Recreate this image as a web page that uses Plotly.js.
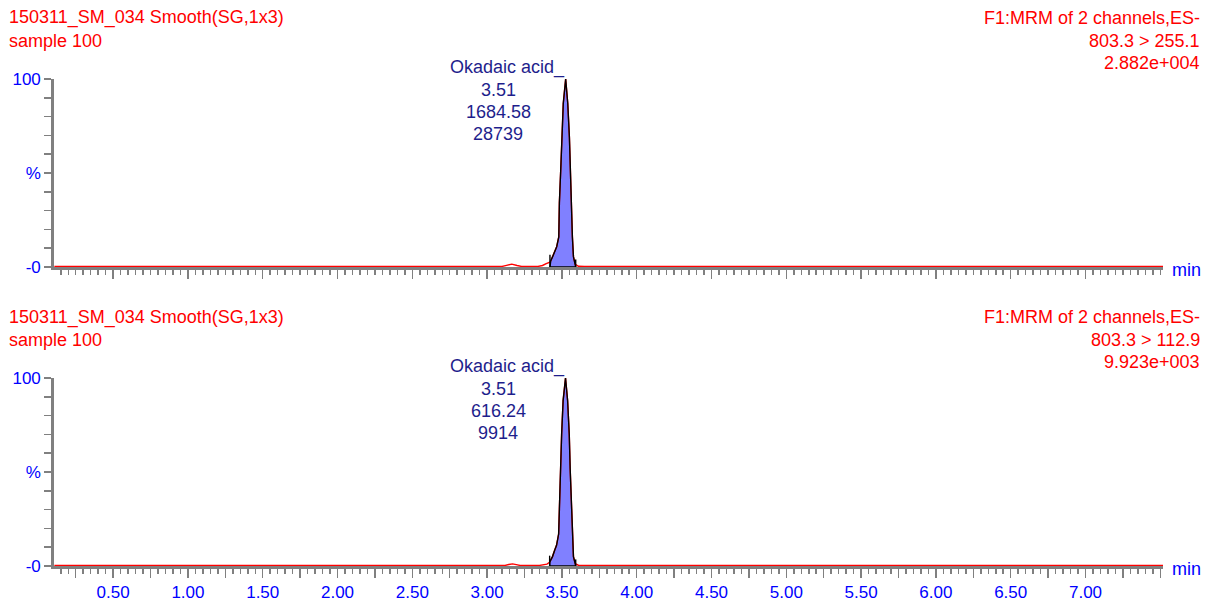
<!DOCTYPE html>
<html>
<head>
<meta charset="utf-8">
<script src="https://cdn.plot.ly/plotly-3.0.1.min.js"></script>
<style>html,body{margin:0;padding:0;background:#fff;}#chart{width:1208px;height:601px;}</style>
</head>
<body>
<div id="chart"></div>
<script>
// ---------- DATA ----------
// Channel 1 (803.3 > 255.1): integrated peak outline (time in min, % intensity)
const peak1Time = [3.420, 3.420, 3.425, 3.438, 3.454, 3.465, 3.479, 3.483, 3.492, 3.499, 3.509, 3.525, 3.539, 3.550, 3.556, 3.563, 3.570, 3.577, 3.588, 3.592];
const peak1Int  = [0,     2.6,   3.2,   5.5,   9.0,   10.8,  16.0,  34.0,  51.6,  69.0,  87.0,  100,   87.0,  69.0,  51.6,  34.0,  16.0,  5.5,   1.5,   0];
// Channel 1 full trace outside the peak
const trace1PreTime  = [0.106, 1.00, 2.00, 3.00, 3.10, 3.13, 3.165, 3.20, 3.23, 3.34, 3.37, 3.395, 3.41];
const trace1PreInt   = [0.3,   0.3,  0.3,  0.3,  0.3,  0.9,  1.5,   0.8,  0.3,  0.3,  0.8,  1.8,   2.3];
const trace1PostTime = [3.61, 3.65, 5.00, 7.518];
const trace1PostInt  = [0.4,  0.3,  0.3,  0.3];
// integration markers (start / end drop lines), % height
const marks1Time = [3.420, 3.592];
const marks1Int  = [6.5, 4.0];

// Channel 2 (803.3 > 112.9)
const peak2Time = [3.418, 3.418, 3.424, 3.437, 3.452, 3.464, 3.478, 3.483, 3.491, 3.498, 3.508, 3.524, 3.538, 3.549, 3.555, 3.562, 3.569, 3.577, 3.589, 3.592];
const peak2Int  = [0,     2.0,   3.0,   5.0,   8.5,   11.0,  17.0,  34.0,  52.0,  70.0,  88.0,  100,   88.0,  70.0,  52.0,  34.0,  15.0,  5.0,   1.2,   0];
const trace2PreTime  = [0.106, 1.00, 2.00, 3.00, 3.12, 3.145, 3.17, 3.195, 3.22, 3.35, 3.38, 3.40, 3.41];
const trace2PreInt   = [0.3,   0.3,  0.3,  0.3,  0.3,  0.8,   1.1,  0.7,   0.3,  0.3,  0.5,  1.0,  1.6];
const trace2PostTime = [3.61, 3.65, 5.00, 7.518];
const trace2PostInt  = [0.4,  0.3,  0.3,  0.3];
const marks2Time = [3.418, 3.592];
const marks2Int  = [5.5, 3.5];

// Text content
const fileLabel = "150311_SM_034 Smooth(SG,1x3)";
const sampleLabel = "sample 100";
const functionLabel = "F1:MRM of 2 channels,ES-";
const transitions = ["803.3 > 255.1", "803.3 > 112.9"];
const intensities = ["2.882e+004", "9.923e+003"];
const compound = "Okadaic acid_";
const peakRT = ["3.51", "3.51"];
const peakArea = ["1684.58", "616.24"];
const peakHeight = ["28739", "9914"];
const xLabelVals = [0.5, 1.0, 1.5, 2.0, 2.5, 3.0, 3.5, 4.0, 4.5, 5.0, 5.5, 6.0, 6.5, 7.0];
const xLabelText = ["0.50","1.00","1.50","2.00","2.50","3.00","3.50","4.00","4.50","5.00","5.50","6.00","6.50","7.00"];
const yTickVals = [0, 50, 100];
const yTickText = ["-0", "%", "100"];

// ---------- LAYOUT HELPERS ----------
const W = 1208, H = 601;
const xL = 54.2, xR = 1163;
const panels = [
  {zero: 267, full: 79, headY: 18},
  {zero: 566, full: 378, headY: 317}
];
const px = v => v / W;
const pyy = v => 1 - v / H;

// Major tick positions every 0.25 min; labels only on the 0.5 multiples
const majorVals = [];
const majorText = [];
for (let i = 1; i <= 30; i++) {
  const v = i * 0.25;
  majorVals.push(v);
  const k = xLabelVals.findIndex(u => Math.abs(u - v) < 1e-9);
  majorText.push(k >= 0 ? xLabelText[k] : "");
}

const grey = "#808080";
const fillCol = "rgb(128,128,255)";
const navy = "#1e1e8c";
const red = "#ff0000";
const fontFam = "Liberation Sans, Arial, Helvetica, sans-serif";

function xaxisDef(showLabels, anchor) {
  return {
    domain: [px(xL), px(xR)], range: [0.106, 7.518], anchor: anchor,
    showgrid: false, zeroline: false, showline: true, linecolor: grey, linewidth: 3,
    ticks: "outside", tickmode: "array", tickvals: majorVals, ticktext: majorText,
    ticklen: 9, tickwidth: 1.5, tickcolor: grey,
    minor: {ticks: "outside", dtick: 0.05, tick0: 0, ticklen: 5, tickwidth: 1.5, tickcolor: grey, showgrid: false},
    showticklabels: showLabels,
    tickfont: {family: fontFam, size: 17, color: "#0000ff"},
    fixedrange: true
  };
}
function yaxisDef(p, anchor) {
  return {
    domain: [pyy(p.zero), pyy(p.full)], range: [0, 100], anchor: anchor,
    showgrid: false, zeroline: false, showline: true, linecolor: grey, linewidth: 3,
    ticks: "outside", tickmode: "array", tickvals: yTickVals, ticktext: yTickText,
    ticklen: 7, tickwidth: 1.5, tickcolor: grey,
    minor: {ticks: "outside", dtick: 10, tick0: 0, ticklen: 7, tickwidth: 1.5, tickcolor: grey, showgrid: false},
    tickfont: {family: fontFam, size: 17, color: "#0000ff"},
    fixedrange: true
  };
}

function buildTraces(peakT, peakI, preT, preI, postT, postI, mT, mI, xa, ya) {
  const out = [];
  // filled area
  out.push({x: peakT, y: peakI, xaxis: xa, yaxis: ya, type: "scatter", mode: "lines",
    fill: "toself", fillcolor: fillCol, line: {width: 0}, hoverinfo: "skip"});
  // full red chromatogram
  out.push({x: preT.concat(peakT.slice(1, -1), postT), y: preI.concat(peakI.slice(1, -1), postI),
    xaxis: xa, yaxis: ya, type: "scatter", mode: "lines", line: {color: red, width: 1.4}, hoverinfo: "skip"});
  // black outline of the integrated peak (closed along baseline)
  out.push({x: peakT.concat([peakT[0]]), y: peakI.concat([peakI[0]]), xaxis: xa, yaxis: ya,
    type: "scatter", mode: "lines", line: {color: "#000000", width: 1.4}, hoverinfo: "skip"});
  // integration start/end drop marks
  out.push({x: [mT[0], mT[0], null, mT[1], mT[1]], y: [0, mI[0], null, 0, mI[1]], xaxis: xa, yaxis: ya,
    type: "scatter", mode: "lines", line: {color: "#000000", width: 1.4}, hoverinfo: "skip"});
  return out;
}

const data = [].concat(
  buildTraces(peak1Time, peak1Int, trace1PreTime, trace1PreInt, trace1PostTime, trace1PostInt, marks1Time, marks1Int, "x", "y"),
  buildTraces(peak2Time, peak2Int, trace2PreTime, trace2PreInt, trace2PostTime, trace2PostInt, marks2Time, marks2Int, "x2", "y2")
);

const annotations = [];
function ann(text, x, y, xanchor, color, size) {
  annotations.push({text: text, xref: "paper", yref: "paper", x: px(x), y: pyy(y),
    xanchor: xanchor, yanchor: "middle", showarrow: false, borderpad: 0,
    font: {family: fontFam, size: size || 18, color: color}});
}
panels.forEach((p, i) => {
  const h = p.headY;
  ann(fileLabel, 8, h, "left", red);
  ann(sampleLabel, 8, h + 23, "left", red);
  ann(functionLabel, 1201, h, "right", red);
  ann(transitions[i], 1201, h + 23, "right", red);
  ann(intensities[i], 1201, h + 45, "right", red);
  ann("min", 1171, p.zero + 3, "left", "#0000ff");
  const cx = 498;
  ann(compound, 507, p.full - 12, "center", navy);
  ann(peakRT[i], cx, p.full + 11, "center", navy);
  ann(peakArea[i], cx, p.full + 33, "center", navy);
  ann(peakHeight[i], cx, p.full + 55, "center", navy);
});

const layout = {
  width: W, height: H, margin: {l: 0, r: 0, t: 0, b: 0},
  paper_bgcolor: "#ffffff", plot_bgcolor: "#ffffff", showlegend: false,
  font: {family: fontFam, size: 16, color: "#0000ff"},
  xaxis: xaxisDef(false, "y"),
  yaxis: yaxisDef(panels[0], "x"),
  xaxis2: xaxisDef(true, "y2"),
  yaxis2: yaxisDef(panels[1], "x2"),
  annotations: annotations
};

Plotly.newPlot("chart", data, layout, {displayModeBar: false, staticPlot: true});
</script>
</body>
</html>
